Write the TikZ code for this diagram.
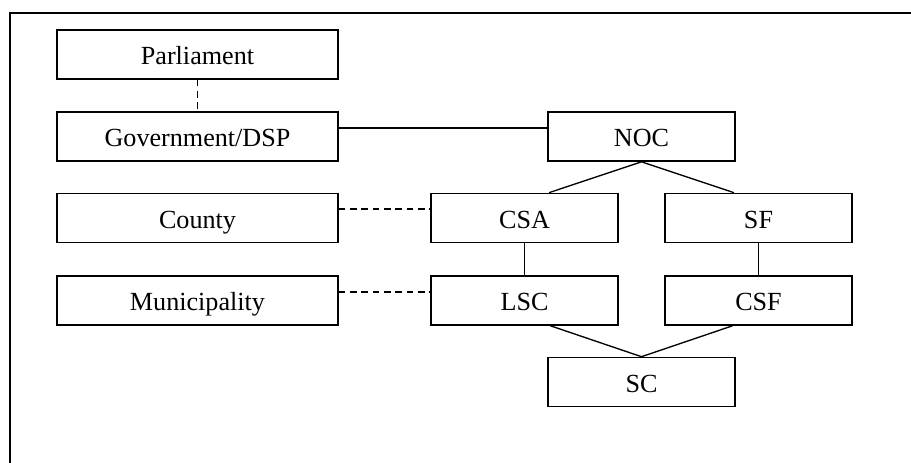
\documentclass[tikz,border=0pt]{standalone}
\usepackage{fontspec}
\setmainfont{Liberation Serif}
\begin{document}
\begin{tikzpicture}[x=0.75pt,y=-0.75pt,
  lbox/.style={draw, line width=1.2pt, minimum width=210.75pt, minimum height=36.75pt, inner sep=0pt, text height=18pt, text depth=2.25pt, font=\fontsize{19.6}{23}\selectfont},
  rbox/.style={lbox, minimum width=140.25pt},
  link/.style={line width=1pt},
  dlink/.style={line width=1.1pt, dash pattern=on 5pt off 3.5pt}]
\useasboundingbox (0,0) rectangle (911,463);
\draw[line width=1.5pt] (911,13) -- (10,13) -- (10,463);
\node[lbox] (parl) at (197.5,54.5) {Parliament};
\node[lbox] (gov) at (197.5,136.5) {Government/DSP};
\node[lbox] (county) at (197.5,218) {County};
\node[lbox] (muni) at (197.5,300.5) {Municipality};
\node[rbox] (noc) at (641.5,136.5) {NOC};
\node[rbox] (csa) at (524.5,218) {CSA};
\node[rbox] (sf) at (758.5,218) {SF};
\node[rbox] (lsc) at (524.5,300.5) {LSC};
\node[rbox] (csf) at (758.5,300.5) {CSF};
\node[rbox] (sc) at (641.5,382) {SC};
\draw[dlink] (parl.south) -- (gov.north);
\draw[link] ([yshift=6.4pt]gov.east) -- ([yshift=6.4pt]noc.west);
\draw[dlink] ([yshift=6.6pt]county.east) -- ([yshift=6.6pt]csa.west);
\draw[dlink] ([yshift=6.4pt]muni.east) -- ([yshift=6.4pt]lsc.west);
\draw[link] ([xshift=18.4pt]csa.north) -- (noc.south) -- ([xshift=-18.4pt]sf.north);
\draw[link] (csa.south) -- (lsc.north);
\draw[link] (sf.south) -- (csf.north);
\draw[link] ([xshift=19.5pt]lsc.south) -- (sc.north) -- ([xshift=-19.5pt]csf.south);
\end{tikzpicture}
\end{document}
